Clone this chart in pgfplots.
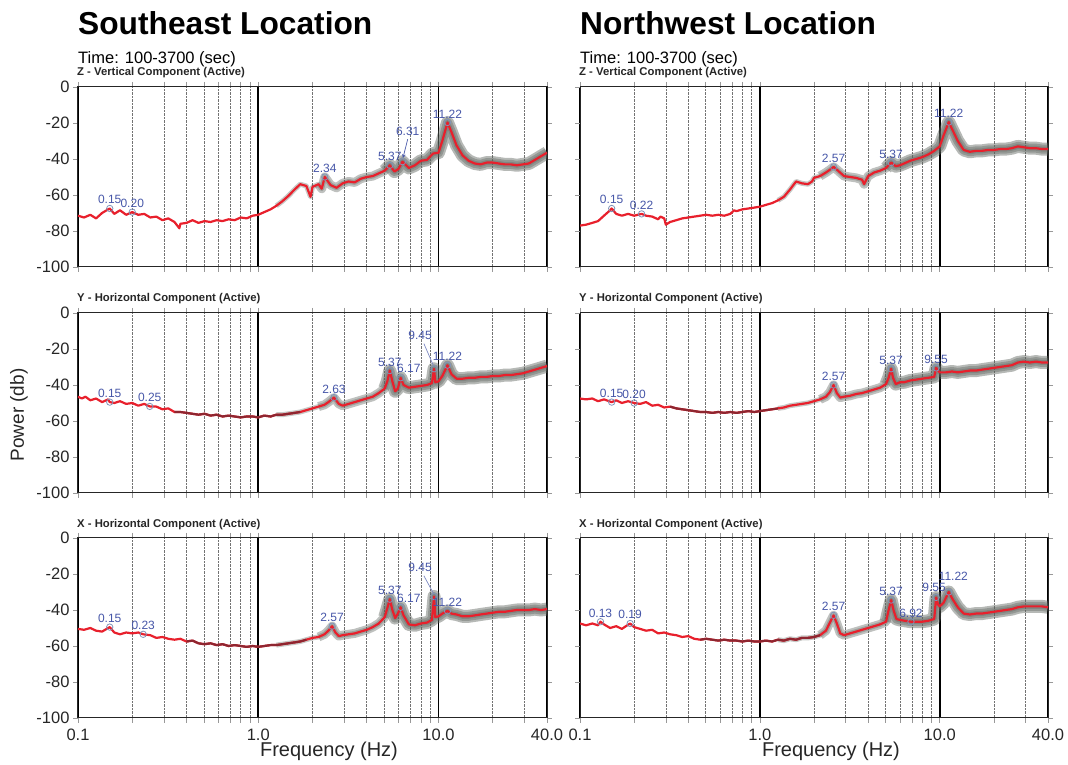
\documentclass[border=0pt]{standalone}
\usepackage{fontspec}
\setmainfont{Liberation Sans}
\usepackage{pgfplots}
\usepackage{pgfplotstable}
\pgfplotsset{compat=1.18}
\definecolor{psdred}{HTML}{E8202C}
\definecolor{psddark}{HTML}{8E2630}
\definecolor{bandc}{HTML}{5E645E}
\definecolor{pklab}{HTML}{4656A8}
\definecolor{pkcirc}{HTML}{8093B8}

% ---------------- data ----------------
\pgfplotstableread{
x y
0.100 -71.5
0.108 -72.5
0.117 -71.0
0.126 -73.0
0.136 -70.0
0.147 -68.0
0.150 -67.5
0.159 -70.5
0.171 -68.5
0.185 -71.0
0.200 -69.5
0.216 -71.0
0.233 -70.5
0.252 -72.5
0.272 -72.0
0.294 -74.0
0.317 -73.0
0.343 -75.0
0.365 -78.5
0.370 -76.0
0.400 -75.5
0.432 -74.0
0.466 -75.5
0.503 -74.5
0.544 -75.0
0.587 -74.0
0.634 -74.5
0.685 -73.5
0.740 -74.0
0.799 -72.5
0.863 -73.0
0.932 -71.5
1.00 -71.0
1.08 -69.5
1.17 -68.0
1.26 -66.0
1.36 -63.5
1.47 -60.5
1.59 -57.0
1.71 -54.0
1.85 -55.0
1.95 -61.0
2.00 -55.5
2.16 -54.0
2.25 -56.5
2.34 -50.0
2.52 -54.5
2.72 -56.0
2.94 -53.5
3.17 -52.5
3.43 -53.0
3.70 -51.0
4.00 -50.0
4.32 -49.5
4.66 -48.0
5.03 -46.5
5.37 -43.5
5.70 -47.0
6.00 -45.5
6.31 -41.5
6.85 -45.0
7.40 -43.5
7.99 -41.0
8.63 -40.5
9.32 -37.0
10.0 -36.5
10.5 -30.0
11.22 -19.7
11.8 -25.0
12.6 -32.5
13.6 -38.0
14.7 -41.0
15.9 -42.5
17.1 -43.0
18.5 -42.0
20.0 -42.0
21.6 -42.5
23.3 -43.0
25.2 -43.0
27.2 -43.5
29.4 -43.0
31.7 -42.5
34.3 -40.5
37.0 -38.5
40.0 -36.5
}\tabA
\pgfplotstableread{
x y l
0.15 -67.5 0.15
0.20 -69.5 0.20
2.34 -50.0 2.34
5.37 -43.5 5.37
6.31 -41.5 {}
11.22 -19.7 11.22
}\pkA

\pgfplotstableread{
x y
0.100 -77.0
0.108 -76.5
0.117 -75.5
0.126 -74.5
0.136 -71.5
0.147 -68.5
0.150 -67.5
0.159 -70.5
0.171 -71.5
0.185 -70.5
0.200 -71.5
0.220 -70.5
0.233 -71.5
0.252 -72.0
0.272 -73.5
0.280 -72.0
0.294 -73.0
0.300 -76.5
0.317 -75.0
0.343 -74.0
0.370 -73.0
0.400 -72.5
0.432 -72.0
0.466 -71.5
0.503 -71.0
0.544 -71.5
0.587 -71.0
0.634 -71.5
0.685 -70.5
0.720 -68.5
0.740 -69.0
0.799 -68.0
0.863 -67.5
0.932 -67.0
1.00 -66.5
1.08 -65.5
1.17 -64.5
1.26 -63.0
1.36 -61.0
1.47 -57.0
1.59 -52.5
1.71 -53.5
1.85 -54.0
1.95 -52.5
2.00 -50.5
2.16 -49.5
2.33 -47.5
2.45 -46.0
2.57 -44.4
2.72 -46.5
2.94 -49.5
3.17 -50.0
3.43 -50.5
3.70 -51.5
3.80 -54.0
4.00 -49.5
4.32 -47.5
4.66 -46.5
5.03 -45.0
5.37 -42.0
5.70 -44.0
6.00 -43.5
6.34 -42.5
6.85 -41.0
7.40 -40.0
7.99 -39.0
8.63 -37.5
9.32 -35.5
10.0 -33.0
10.5 -27.0
11.22 -19.5
11.8 -24.0
12.6 -30.0
13.6 -35.0
14.7 -36.0
15.9 -35.5
17.1 -35.5
18.5 -35.0
20.0 -35.0
21.6 -34.5
23.3 -34.5
25.2 -34.0
27.2 -33.0
29.4 -33.5
31.7 -34.0
34.3 -34.0
37.0 -34.5
40.0 -34.5
}\tabB
\pgfplotstableread{
x y l
0.15 -67.5 0.15
0.22 -70.5 0.22
2.57 -44.4 2.57
5.37 -42.0 5.37
11.22 -19.5 11.22
}\pkB

\pgfplotstableread{
x y
0.100 -46.5
0.105 -47.5
0.110 -46.5
0.117 -48.5
0.126 -47.5
0.136 -49.5
0.147 -48.0
0.150 -49.5
0.159 -50.0
0.171 -49.0
0.185 -50.5
0.200 -50.0
0.216 -51.5
0.233 -50.5
0.250 -51.9
0.272 -52.0
0.294 -53.5
0.317 -53.0
0.343 -55.0
0.370 -55.0
0.400 -55.5
0.432 -56.0
0.466 -56.5
0.503 -56.0
0.544 -57.0
0.587 -56.5
0.634 -57.5
0.685 -57.0
0.740 -57.5
0.799 -58.0
0.863 -57.5
0.932 -57.5
1.00 -58.0
1.08 -57.0
1.17 -57.5
1.26 -56.5
1.36 -56.5
1.47 -56.0
1.59 -55.5
1.71 -55.0
1.85 -54.0
2.00 -53.0
2.16 -52.0
2.33 -51.0
2.45 -49.5
2.63 -47.0
2.80 -50.5
2.94 -51.5
3.17 -50.5
3.43 -49.5
3.70 -48.5
4.00 -47.5
4.32 -46.5
4.66 -44.5
5.03 -42.0
5.20 -38.0
5.37 -32.0
5.55 -38.0
5.75 -43.5
5.95 -42.0
6.17 -36.0
6.40 -40.0
6.85 -41.5
7.40 -41.0
7.99 -40.5
8.63 -40.0
9.20 -39.0
9.45 -31.0
9.60 -38.5
10.0 -38.0
10.5 -35.0
11.22 -29.0
11.8 -34.0
12.6 -36.5
13.6 -36.5
14.7 -36.0
15.9 -36.0
17.1 -35.5
18.5 -35.5
20.0 -35.0
21.6 -35.0
23.3 -34.5
25.2 -34.5
27.2 -34.0
29.4 -33.5
31.7 -32.5
34.3 -31.5
37.0 -30.5
40.0 -29.5
}\tabC
\pgfplotstableread{
x y l
0.15 -49.5 0.15
0.25 -51.9 0.25
2.63 -47.0 2.63
5.37 -32.0 5.37
6.17 -36.0 {}
9.45 -31.0 {}
11.22 -29.0 11.22
}\pkC

\pgfplotstableread{
x y
0.100 -47.5
0.108 -48.0
0.117 -47.5
0.126 -49.0
0.136 -48.0
0.150 -49.5
0.159 -48.5
0.171 -50.0
0.185 -49.0
0.200 -50.0
0.216 -50.5
0.233 -49.5
0.252 -51.5
0.272 -51.0
0.294 -52.5
0.317 -52.0
0.343 -53.0
0.370 -53.5
0.400 -54.0
0.432 -54.5
0.466 -55.0
0.503 -55.0
0.544 -55.5
0.587 -55.0
0.634 -55.5
0.685 -55.0
0.740 -55.5
0.799 -55.0
0.863 -54.5
0.932 -55.0
1.00 -54.5
1.08 -54.0
1.17 -53.5
1.26 -53.0
1.36 -52.5
1.47 -51.5
1.59 -51.0
1.71 -50.5
1.85 -50.0
2.00 -49.0
2.16 -48.0
2.33 -46.5
2.45 -44.0
2.57 -40.0
2.68 -44.5
2.80 -47.0
2.94 -46.5
3.17 -46.0
3.43 -45.0
3.70 -44.5
4.00 -43.5
4.32 -42.5
4.66 -41.5
5.03 -39.5
5.20 -36.0
5.37 -31.0
5.50 -36.0
5.70 -39.5
6.00 -38.5
6.34 -38.5
6.85 -37.5
7.40 -37.0
7.99 -36.5
8.63 -36.0
9.32 -35.5
9.55 -30.5
10.0 -33.0
10.8 -33.0
11.7 -32.5
12.6 -33.0
13.6 -32.5
14.7 -32.0
15.9 -32.0
17.1 -31.5
18.5 -31.0
20.0 -30.5
21.6 -30.0
23.3 -29.5
25.2 -29.0
27.2 -27.5
29.4 -27.0
31.7 -27.5
34.3 -27.0
37.0 -27.5
40.0 -27.5
}\tabD
\pgfplotstableread{
x y l
0.15 -49.5 0.15
0.20 -50.0 0.20
2.57 -40.0 2.57
5.37 -31.0 5.37
9.55 -30.5 9.55
}\pkD

\pgfplotstableread{
x y
0.100 -50.5
0.108 -51.0
0.117 -50.0
0.126 -51.5
0.136 -52.0
0.150 -49.5
0.159 -52.5
0.171 -53.5
0.185 -52.5
0.200 -53.0
0.216 -52.5
0.230 -53.5
0.252 -54.0
0.272 -55.5
0.294 -55.0
0.317 -56.0
0.343 -56.5
0.370 -56.0
0.400 -57.5
0.432 -57.0
0.466 -58.5
0.503 -59.0
0.544 -58.5
0.587 -59.5
0.634 -59.0
0.685 -60.0
0.740 -59.5
0.799 -60.0
0.863 -60.5
0.932 -60.0
1.00 -60.5
1.08 -60.0
1.17 -59.5
1.26 -59.5
1.36 -59.0
1.47 -58.5
1.59 -58.0
1.71 -57.5
1.85 -56.5
2.00 -55.5
2.16 -55.0
2.33 -53.5
2.45 -51.5
2.57 -49.0
2.68 -52.5
2.80 -54.5
2.94 -54.0
3.17 -53.5
3.43 -53.0
3.70 -52.0
4.00 -51.0
4.32 -49.5
4.66 -47.5
5.03 -44.0
5.20 -39.0
5.37 -34.0
5.55 -40.0
5.75 -44.5
5.95 -42.0
6.17 -38.5
6.40 -43.0
6.85 -48.0
7.40 -48.5
7.99 -47.5
8.63 -47.0
9.20 -45.5
9.45 -32.5
9.60 -44.0
10.0 -43.5
10.5 -42.0
11.22 -40.5
11.8 -42.0
12.6 -42.5
13.6 -43.5
14.7 -43.5
15.9 -43.0
17.1 -42.5
18.5 -42.0
20.0 -41.5
21.6 -41.0
23.3 -41.0
25.2 -40.5
27.2 -40.0
29.4 -40.0
31.7 -40.0
34.3 -39.5
37.0 -40.0
40.0 -39.5
}\tabE
\pgfplotstableread{
x y l
0.15 -49.5 0.15
0.23 -53.5 0.23
2.57 -49.0 2.57
5.37 -34.0 5.37
6.17 -38.5 {}
9.45 -32.5 {}
11.22 -40.5 11.22
}\pkE

\pgfplotstableread{
x y
0.100 -47.5
0.108 -48.5
0.117 -47.5
0.126 -48.5
0.130 -46.5
0.136 -48.0
0.147 -50.0
0.159 -49.0
0.171 -50.5
0.180 -49.0
0.190 -47.5
0.200 -49.5
0.216 -50.5
0.233 -51.5
0.252 -51.0
0.272 -53.0
0.294 -52.5
0.317 -53.5
0.343 -54.0
0.370 -55.0
0.400 -54.5
0.432 -56.0
0.466 -56.5
0.503 -56.0
0.544 -56.5
0.587 -57.0
0.634 -56.5
0.685 -57.0
0.740 -57.0
0.799 -57.5
0.863 -57.0
0.932 -57.5
1.00 -57.5
1.08 -57.0
1.17 -57.5
1.26 -56.5
1.36 -57.0
1.47 -56.0
1.59 -56.5
1.71 -55.5
1.85 -55.5
2.00 -55.0
2.16 -54.0
2.33 -51.5
2.45 -47.0
2.57 -43.0
2.68 -47.5
2.80 -53.0
2.94 -54.0
3.17 -53.0
3.43 -52.0
3.70 -51.0
4.00 -50.0
4.32 -49.0
4.66 -48.0
5.03 -46.5
5.20 -40.0
5.37 -34.5
5.55 -40.5
5.75 -45.0
6.00 -45.5
6.40 -46.0
6.92 -46.5
7.40 -46.5
7.99 -46.5
8.63 -46.0
9.32 -45.0
9.55 -33.0
9.80 -37.0
10.0 -38.0
10.5 -36.0
11.22 -30.0
11.8 -34.0
12.6 -38.5
13.6 -42.0
14.7 -42.5
15.9 -42.0
17.1 -42.0
18.5 -41.5
20.0 -41.0
21.6 -40.5
23.3 -40.0
25.2 -39.5
27.2 -38.5
29.4 -38.0
31.7 -38.0
34.3 -38.0
37.0 -38.0
40.0 -38.5
}\tabF
\pgfplotstableread{
x y l
0.13 -46.5 0.13
0.19 -47.5 0.19
2.57 -43.0 2.57
5.37 -34.5 5.37
6.92 -46.5 6.92
9.55 -33.0 {}
11.22 -30.0 {}
}\pkF

% ---------------- styles ----------------
\pgfplotsset{/pgf/number format/assume math mode=true}
\newenvironment{psdaxis}[1]{%
\begin{axis}[
    scale only axis, width=469pt, height=180pt,
    xmode=log, xmin=0.1, xmax=40, ymin=-100, ymax=0,
    xtick={0.1,1,10,40}, xticklabels={0.1,1.0,10.0,40.0},
    minor xtick={0.2,0.3,0.4,0.5,0.6,0.7,0.8,0.9,2,3,4,5,6,7,8,9,20,30},
    xmajorgrids=true, xminorgrids=true,
    major grid style={black, line width=1.6pt},
    minor grid style={densely dotted, black!55, line width=0.6pt},
    ytick={-100,-80,-60,-40,-20,0},
    tick align=outside,
    major tick length=5pt, minor tick length=5pt,
    tick style={black!40, line width=0.6pt},
    axis line style={black!85, line width=1pt},
    tick label style={font=\fontsize{16.5}{16.5}\selectfont, text=black!85},
    xticklabel style={yshift=-2pt},
    anchor=south west, #1]}{\end{axis}}
\pgfplotsset{
  bandA/.style={bandc, opacity=0.35, line width=5pt, line join=round},
  bandB/.style={bandc, opacity=0.40, line width=9pt, line join=round},
  bandC/.style={bandc, opacity=0.45, line width=13pt, line join=round},
  redline/.style={psdred, line width=2.2pt, line join=round},
  darkseg/.style={psddark, line width=2.2pt, line join=round},
  peaks/.style={only marks, mark=o, mark size=3.2pt,
    mark options={pkcirc, line width=0.8pt},
    nodes near coords, point meta=explicit symbolic,
    nodes near coords style={font=\fontsize{12}{12}\selectfont, text=pklab,
      anchor=south, inner sep=1pt, yshift=3pt}},
  plabels/.style={draw=none, mark=none,
    nodes near coords, point meta=explicit symbolic,
    nodes near coords style={font=\fontsize{12}{12}\selectfont, text=pklab,
      anchor=center, inner sep=1pt}},
}

\begin{document}
\begin{tikzpicture}
\path[use as bounding box] (0pt,0pt) rectangle (1068pt,765pt);

% ---------- titles ----------
\node[anchor=base west, inner sep=0pt, font=\fontsize{31.7}{32}\selectfont\bfseries] at (78pt,730pt) {Southeast Location};
\node[anchor=base west, inner sep=0pt, font=\fontsize{31.7}{32}\selectfont\bfseries] at (580pt,730pt) {Northwest Location};
\node[anchor=base west, inner sep=0pt, font=\fontsize{16.5}{17}\selectfont] at (78pt,701.5pt) {Time: 100-3700 (sec)};
\node[anchor=base west, inner sep=0pt, font=\fontsize{16.5}{17}\selectfont] at (580pt,701.5pt) {Time: 100-3700 (sec)};
\node[anchor=base west, inner sep=0pt, font=\fontsize{11.3}{12}\selectfont\bfseries, text=black!85] at (77pt,689.5pt) {Z - Vertical Component (Active)};
\node[anchor=base west, inner sep=0pt, font=\fontsize{11.3}{12}\selectfont\bfseries, text=black!85] at (579pt,689.5pt) {Z - Vertical Component (Active)};
\node[anchor=base west, inner sep=0pt, font=\fontsize{11.3}{12}\selectfont\bfseries, text=black!85] at (77pt,463pt) {Y - Horizontal Component (Active)};
\node[anchor=base west, inner sep=0pt, font=\fontsize{11.3}{12}\selectfont\bfseries, text=black!85] at (579pt,463pt) {Y - Horizontal Component (Active)};
\node[anchor=base west, inner sep=0pt, font=\fontsize{11.3}{12}\selectfont\bfseries, text=black!85] at (77pt,237.5pt) {X - Horizontal Component (Active)};
\node[anchor=base west, inner sep=0pt, font=\fontsize{11.3}{12}\selectfont\bfseries, text=black!85] at (579pt,237.5pt) {X - Horizontal Component (Active)};
\node[rotate=90, inner sep=0pt, font=\fontsize{19}{20}\selectfont, text=black!85] at (19pt,350pt) {Power (db)};
\node[anchor=base, inner sep=0pt, font=\fontsize{20}{20}\selectfont, text=black!85] at (329pt,8pt) {Frequency (Hz)};
\node[anchor=base, inner sep=0pt, font=\fontsize{20}{20}\selectfont, text=black!85] at (831pt,8pt) {Frequency (Hz)};

% ---------- SE Z ----------
\begin{psdaxis}{at={(78pt,498pt)}, xticklabels={}}
\addplot[bandA, skip coords between index={0}{35}] table {\tabA};
\addplot[bandB, skip coords between index={0}{43}] table {\tabA};
\addplot[bandC, skip coords between index={0}{55}] table {\tabA};
\addplot[redline] table {\tabA};
\addplot[peaks] table[meta=l] {\pkA};
\addplot[pklab, line width=0.7pt, -stealth] coordinates {(6.75,-29) (6.35,-39.5)};
\addplot[plabels] table[meta=l, row sep=\\] {x y l\\ 6.75 -24.5 6.31\\};
\end{psdaxis}

% ---------- NW Z ----------
\begin{psdaxis}{width=468pt, at={(580pt,498pt)}, xticklabels={}, yticklabels={}}
\addplot[bandA, skip coords between index={0}{37}] table {\tabB};
\addplot[bandB, skip coords between index={0}{45}] table {\tabB};
\addplot[bandC, skip coords between index={0}{58}] table {\tabB};
\addplot[redline] table {\tabB};
\addplot[peaks] table[meta=l] {\pkB};
\end{psdaxis}

% ---------- SE Y ----------
\begin{psdaxis}{at={(78pt,272pt)}, xticklabels={}}
\addplot[bandA, skip coords between index={0}{35}] table {\tabC};
\addplot[bandB, skip coords between index={0}{42}] table {\tabC};
\addplot[bandC, skip coords between index={0}{54}] table {\tabC};
\addplot[redline] table {\tabC};
\addplot[darkseg, restrict expr to domain={\coordindex}{18:39}] table {\tabC};
\addplot[peaks] table[meta=l] {\pkC};
\addplot[pklab!70, line width=0.7pt] coordinates {(8.3,-17) (9.35,-29)};
\addplot[plabels] table[meta=l, row sep=\\] {x y l\\ 7.9 -12.5 9.45\\ 6.85 -30.5 6.17\\};
\end{psdaxis}

% ---------- NW Y ----------
\begin{psdaxis}{width=468pt, at={(580pt,272pt)}, xticklabels={}, yticklabels={}}
\addplot[bandA, skip coords between index={0}{33}] table {\tabD};
\addplot[bandB, skip coords between index={0}{40}] table {\tabD};
\addplot[bandC, skip coords between index={0}{53}] table {\tabD};
\addplot[redline] table {\tabD};
\addplot[darkseg, restrict expr to domain={\coordindex}{15:33}] table {\tabD};
\addplot[peaks] table[meta=l] {\pkD};
\end{psdaxis}

% ---------- SE X ----------
\begin{psdaxis}{at={(78pt,47pt)}}
\addplot[bandA, skip coords between index={0}{33}] table {\tabE};
\addplot[bandB, skip coords between index={0}{40}] table {\tabE};
\addplot[bandC, skip coords between index={0}{53}] table {\tabE};
\addplot[redline] table {\tabE};
\addplot[darkseg, restrict expr to domain={\coordindex}{18:38}] table {\tabE};
\addplot[peaks] table[meta=l] {\pkE};
\addplot[pklab!70, line width=0.7pt] coordinates {(8.3,-21) (9.35,-30.5)};
\addplot[plabels] table[meta=l, row sep=\\] {x y l\\ 7.9 -16.5 9.45\\ 6.85 -33.5 6.17\\};
\end{psdaxis}

% ---------- NW X ----------
\begin{psdaxis}{width=468pt, at={(580pt,47pt)}, yticklabels={}}
\addplot[bandA, skip coords between index={0}{35}] table {\tabF};
\addplot[bandB, skip coords between index={0}{42}] table {\tabF};
\addplot[bandC, skip coords between index={0}{55}] table {\tabF};
\addplot[redline] table {\tabF};
\addplot[darkseg, restrict expr to domain={\coordindex}{22:42}] table {\tabF};
\addplot[peaks] table[meta=l] {\pkF};
\addplot[plabels] table[meta=l, row sep=\\] {x y l\\ 9.3 -27.5 9.55\\ 11.9 -21.5 11.22\\};
\end{psdaxis}
\end{tikzpicture}
\end{document}
